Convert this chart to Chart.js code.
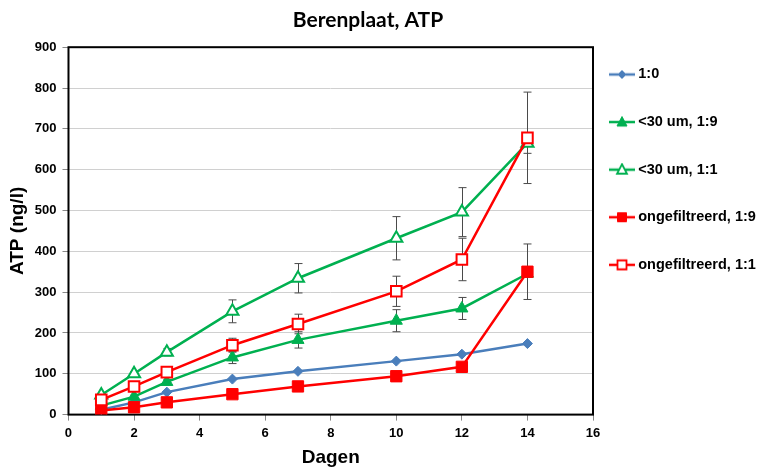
<!DOCTYPE html>
<html><head><meta charset="utf-8">
<script src="https://cdn.jsdelivr.net/npm/chart.js@4"></script>
<style>html,body{margin:0;padding:0;background:#fff}</style>
</head><body>
<canvas id="c" width="758" height="470" style="width:758px;height:470px;display:block"></canvas>
<script>
// ---- data ----
const days = [1, 2, 3, 5, 7, 10, 12, 14];
const seriesNames = ['1:0', '<30 um, 1:9', '<30 um, 1:1', 'ongefiltreerd, 1:9', 'ongefiltreerd, 1:1'];
const atp_1_0      = [12, 30, 55, 87, 106, 131, 148, 174];
const atp_lt30_19  = [22, 44, 80, 140, 183, 230, 260, 345];
const atp_lt30_11  = [48, 100, 153, 253, 334, 432, 496, 665];
const atp_ong_19   = [10, 18, 30, 50, 69, 94, 117, 350];
const atp_ong_11   = [36, 69, 104, 170, 222, 302, 380, 678];
const err_1_0      = [0, 0, 0, 0, 0, 0, 0, 0];
const err_lt30_19  = [0, 4, 6, 15, 20, 27, 27, 0];
const err_lt30_11  = [3, 5, 9, 28, 36, 53, 60, 25];
const err_ong_19   = [0, 0, 0, 0, 0, 0, 0, 68];
const err_ong_11   = [2, 4, 6, 17, 24, 37, 52, 112];
const xTickLabels = ['0','2','4','6','8','10','12','14','16'];
const yTickLabels = ['0','100','200','300','400','500','600','700','800','900'];

const BLUE = '#4A7EBB', GREEN = '#00B050', RED = '#FF0000';
const FONT = "'Liberation Sans', Arial, sans-serif";

function pts(vals) { return days.map((d, i) => ({x: d, y: vals[i]})); }

function makeIcon(color, shape, filled) {
  const c = document.createElement('canvas');
  c.width = 26; c.height = 14;
  const g = c.getContext('2d');
  g.strokeStyle = color; g.lineWidth = 2.5;
  g.beginPath(); g.moveTo(0, 7); g.lineTo(26, 7); g.stroke();
  g.fillStyle = filled ? color : '#fff';
  g.lineWidth = filled ? 1 : 1.8;
  g.beginPath();
  if (shape === 'diamond') { g.moveTo(13, 3); g.lineTo(17, 7); g.lineTo(13, 11); g.lineTo(9, 7); g.closePath(); }
  else if (shape === 'triangle') { g.moveTo(13, 1.5); g.lineTo(18, 11); g.lineTo(8, 11); g.closePath(); }
  else { g.rect(8.5, 2.5, 9, 9); }
  g.fill(); g.stroke();
  return c;
}
const icons = [
  makeIcon(BLUE, 'diamond', true),
  makeIcon(GREEN, 'triangle', true),
  makeIcon(GREEN, 'triangle', false),
  makeIcon(RED, 'square', true),
  makeIcon(RED, 'square', false)
];
const errors = [err_1_0, err_lt30_19, err_lt30_11, err_ong_19, err_ong_11];

const errorBars = {
  id: 'errorBars',
  afterLayout(chart) {
    // centre the main title the way the original does (slightly left of canvas centre)
    const t = chart.titleBlock;
    if (t) { t.left = 0; t.right = 736; t.width = 736; }
  },
  beforeDatasetsDraw(chart) {
    const {ctx, chartArea: a, scales: {x, y}} = chart;
    ctx.save();
    ctx.strokeStyle = '#000'; ctx.lineWidth = 2;
    ctx.strokeRect(a.left, a.top, a.right - a.left, a.bottom - a.top);
    ctx.strokeStyle = '#4a4a4a'; ctx.lineWidth = 1;
    chart.data.datasets.forEach((ds, i) => {
      const e = errors[i];
      ds.data.forEach((p, j) => {
        if (!e[j]) return;
        const px = Math.round(x.getPixelForValue(p.x)) + 0.5;
        const t = y.getPixelForValue(p.y + e[j]);
        const b = y.getPixelForValue(p.y - e[j]);
        ctx.beginPath();
        ctx.moveTo(px, t); ctx.lineTo(px, b);
        ctx.moveTo(px - 4, t); ctx.lineTo(px + 4, t);
        ctx.moveTo(px - 4, b); ctx.lineTo(px + 4, b);
        ctx.stroke();
      });
    });
    ctx.restore();
  }
};

function ds(i, vals, color, style, radius, filled, order) {
  return {
    label: seriesNames[i], data: pts(vals), order,
    borderColor: color, backgroundColor: color, borderWidth: 2.5,
    pointStyle: style, pointRadius: radius, pointHoverRadius: radius,
    pointBackgroundColor: filled ? color : '#fff',
    pointBorderColor: color, pointBorderWidth: filled ? 1 : 2,
    tension: 0
  };
}

new Chart(document.getElementById('c'), {
  type: 'line',
  data: {
    datasets: [
      ds(0, atp_1_0, BLUE, 'rectRot', 5, true, 5),
      ds(1, atp_lt30_19, GREEN, 'triangle', 7, true, 4),
      ds(2, atp_lt30_11, GREEN, 'triangle', 7, false, 3),
      ds(3, atp_ong_19, RED, 'rect', 8, true, 2),
      ds(4, atp_ong_11, RED, 'rect', 7.5, false, 1)
    ]
  },
  options: {
    responsive: false, animation: false, devicePixelRatio: 1,
    layout: {padding: {left: 3, right: 0, top: 0, bottom: 0}},
    plugins: {
      tooltip: {enabled: false},
      title: {
        display: true, text: 'Berenplaat, ATP', color: '#000',
        font: {family: 'Lato', size: 21, weight: 'bold', lineHeight: 1.2},
        padding: {top: 8, bottom: 14}
      },
      legend: {
        position: 'right', align: 'start', fullSize: false, maxWidth: 165,
        labels: {
          usePointStyle: true, pointStyleWidth: 18, padding: 20,
          color: '#000',
          font: {family: FONT, size: 14.5, weight: 'bold', lineHeight: 1.903},
          generateLabels(chart) {
            const items = Chart.defaults.plugins.legend.labels.generateLabels(chart);
            items.sort((a, b) => a.datasetIndex - b.datasetIndex);
            return items.map(it => Object.assign(it, {text: [it.text], pointStyle: icons[it.datasetIndex]}));
          }
        }
      }
    },
    scales: {
      x: {
        type: 'linear', min: 0, max: 16,
        afterBuildTicks(s) { s.ticks = xTickLabels.map(v => ({value: +v})); },
        ticks: {color: '#000', font: {family: FONT, size: 13, weight: 'bold'}, padding: 5, callback: (v, i) => xTickLabels[i]},
        grid: {drawOnChartArea: false, drawTicks: true, tickLength: 6, tickColor: '#888'},
        border: {display: false},
        title: {display: true, text: 'Dagen', color: '#000', font: {family: FONT, size: 19, weight: 'bold', lineHeight: 1.2}, padding: {top: 0, bottom: 1}}
      },
      y: {
        type: 'linear', min: 0, max: 900,
        afterBuildTicks(s) { s.ticks = yTickLabels.map(v => ({value: +v})); },
        ticks: {color: '#000', font: {family: FONT, size: 13, weight: 'bold'}, padding: 6, callback: (v, i) => yTickLabels[i]},
        grid: {color: '#d0d0d0', lineWidth: 1, drawTicks: true, tickLength: 6, tickColor: '#888'},
        border: {display: false},
        title: {display: true, text: 'ATP (ng/l)', color: '#000', font: {family: FONT, size: 19, weight: 'bold', lineHeight: 1.2}, padding: {top: 3, bottom: 0}}
      }
    }
  },
  plugins: [errorBars]
});
</script>
</body></html>
